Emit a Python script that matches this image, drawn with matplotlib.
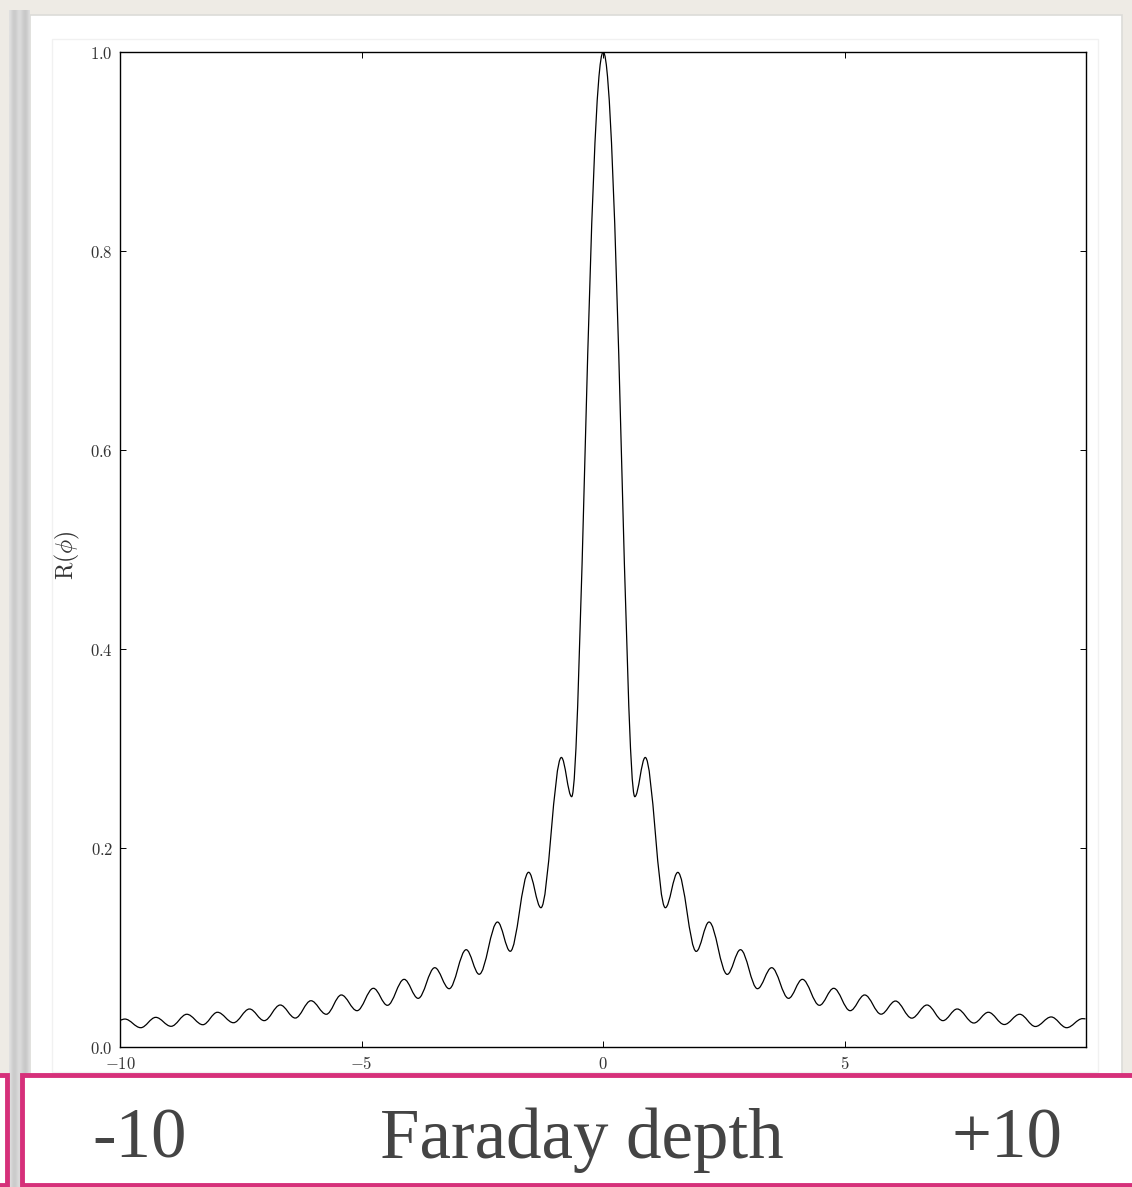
import matplotlib
matplotlib.use("Agg")
import numpy as np
import matplotlib.pyplot as plt
from matplotlib.path import Path
from matplotlib.patches import PathPatch, Rectangle

# turning points of R(phi) (plus the two edge values)
phi = [-10.00, -9.90, -9.571, -9.26, -8.943, -8.617, -8.286, -7.983, -7.652, -7.32,
       -7.016, -6.684, -6.373, -6.048, -5.731, -5.42, -5.095, -4.756, -4.466, -4.12,
       -3.83, -3.486, -3.188, -2.836, -2.567, -2.187, -1.924, -1.544, -1.289, -0.866,
       -0.653, 0.0, 0.653, 0.870, 1.285, 1.544, 1.924, 2.190, 2.566, 2.840,
       3.192, 3.486, 3.835, 4.121, 4.475, 4.770, 5.110, 5.410, 5.750, 6.048,
       6.385, 6.700, 7.030, 7.325, 7.670, 7.970, 8.300, 8.618, 8.943, 9.270,
       9.590, 9.920, 9.98]
rmsf = [0.0271, 0.0281, 0.0194, 0.0298, 0.0208, 0.0329, 0.0224, 0.0349, 0.0244, 0.0382,
        0.0265, 0.0422, 0.0291, 0.0465, 0.0329, 0.0523, 0.0365, 0.0590, 0.0419, 0.0680,
        0.0489, 0.0797, 0.0586, 0.0978, 0.0731, 0.1256, 0.0962, 0.1756, 0.1400, 0.2910,
        0.2516, 1.0000, 0.2516, 0.2910, 0.1400, 0.1755, 0.0961, 0.1256, 0.0730, 0.0978,
        0.0586, 0.0797, 0.0489, 0.0680, 0.0419, 0.0590, 0.0365, 0.0523, 0.0330, 0.0462,
        0.0290, 0.0422, 0.0265, 0.0382, 0.0241, 0.0349, 0.0226, 0.0329, 0.0206, 0.0302,
        0.0194, 0.0285, 0.0283]

x_ticks = [-10, -5, 0, 5]
x_tick_labels = ["$-10$", "$-5$", "$0$", "$5$"]
y_ticks = [0.0, 0.2, 0.4, 0.6, 0.8, 1.0]
y_tick_labels = ["$0.0$", "$0.2$", "$0.4$", "$0.6$", "$0.8$", "$1.0$"]

banner = ["-10", "Faraday depth", "+10"]

W, H = 1132, 1187
plt.rcParams["mathtext.fontset"] = "cm"

fig = plt.figure(figsize=(W / 100, H / 100), dpi=100)
fig.patch.set_facecolor("#eeebe5")


def rect(x0, y0, x1, y1, **kw):
    # pixel box measured from the top-left corner of the slide
    r = Rectangle((x0 / W, 1 - y1 / H), (x1 - x0) / W, (y1 - y0) / H,
                  transform=fig.transFigure, **kw)
    fig.add_artist(r)
    return r


# slide page + plot frame
rect(30, 15, 1122, H + 5, facecolor="white", edgecolor="#dcdcd8", lw=1.2, zorder=-10)
rect(52, 39, 1098, 1072, facecolor="white", edgecolor="#f1f1f1", lw=1.0, zorder=-9)

# grey binding strip on the left
bar = fig.add_axes([9 / W, 0, 20 / W, 1 - 10 / H], zorder=-8)
profile = np.array([[0.88, 0.83, 0.79, 0.80, 0.84, 0.86, 0.84, 0.80, 0.78, 0.80, 0.87]])
bar.imshow(profile, cmap="gray", vmin=0, vmax=1, aspect="auto", interpolation="bicubic")
bar.axis("off")


def turning_point_path(xs, ys):
    verts = [(xs[0], ys[0])]
    codes = [Path.MOVETO]
    top = ys.index(max(ys))
    for i in range(len(xs) - 1):
        x0, y0, x1, y1 = xs[i], ys[i], xs[i + 1], ys[i + 1]
        dx = x1 - x0
        h0 = h1 = 0.36 * dx
        if i == top:          # main lobe, falling side
            h0, h1 = 0.43 * dx, 0.29 * dx
        elif i + 1 == top:    # main lobe, rising side
            h0, h1 = 0.29 * dx, 0.43 * dx
        verts += [(x0 + h0, y0), (x1 - h1, y1), (x1, y1)]
        codes += [Path.CURVE4] * 3
    return Path(verts, codes)


ax = fig.add_axes([120 / W, 1 - 1047 / H, 965.5 / W, 995 / H])
ax.add_patch(PathPatch(turning_point_path(phi, rmsf), fill=False,
                       edgecolor="black", lw=0.9))
ax.set_xlim(-10, 9.98)
ax.set_ylim(0, 1)
ax.set_xticks(x_ticks)
ax.set_xticklabels(x_tick_labels)
ax.set_yticks(y_ticks)
ax.set_yticklabels(y_tick_labels)
ax.tick_params(direction="in", top=True, right=True, length=4, width=0.7,
               labelsize=12, labelcolor="#333333")
ax.tick_params(axis="x", pad=6)
ax.tick_params(axis="y", pad=5)
for s in ax.spines.values():
    s.set_linewidth(1.0)
ax.set_ylabel(r"$\mathrm{R}(\phi)$", fontsize=17, color="#333333")
ax.yaxis.set_label_coords(-0.039, 0.494)

# pink caption boxes along the bottom
rect(-10, 1075, 6.5, 1185, facecolor="white", edgecolor="#d6307a", lw=3.5, zorder=10)
rect(22, 1075, W + 10, 1185, facecolor="white", edgecolor="#d6307a", lw=3.5, zorder=10)

for label, cx in zip(banner, [140, 582, 1007]):
    fig.text(cx / W, 1 - 1158 / H, label, ha="center", va="baseline",
             fontsize=51, family="Liberation Serif", color="#444444", zorder=11)

fig.savefig("out.png", dpi=100, facecolor=fig.get_facecolor())
